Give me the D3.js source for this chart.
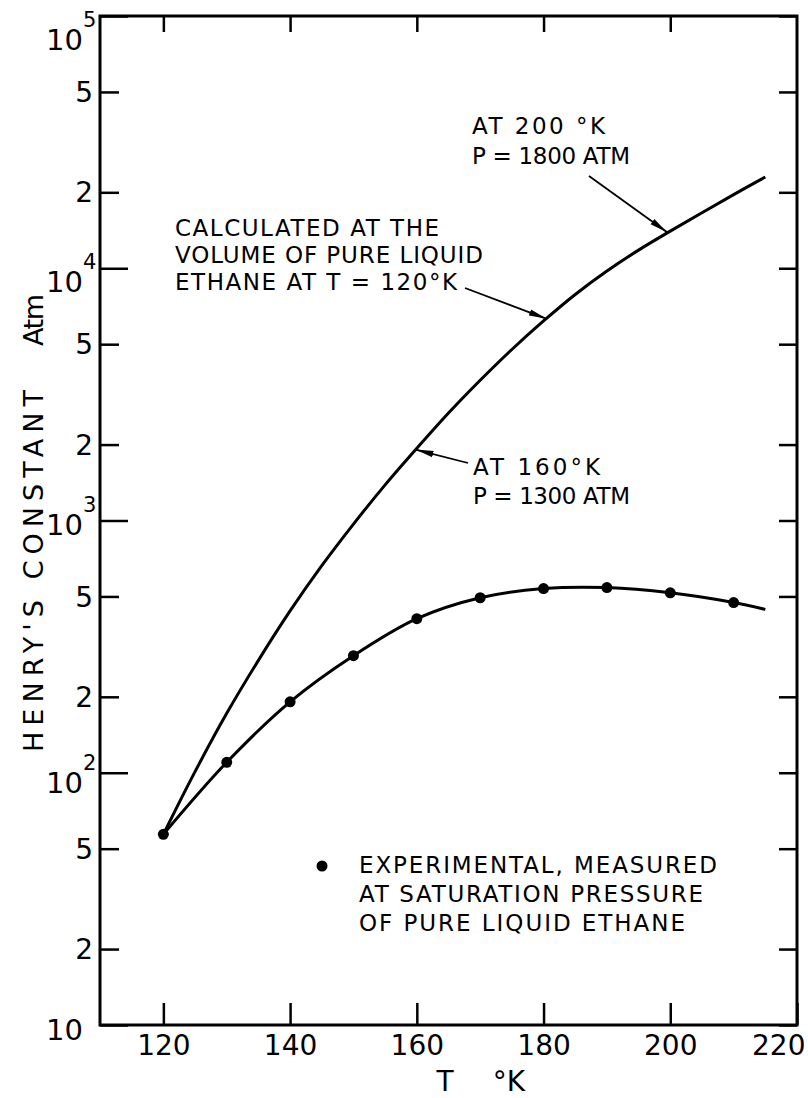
<!DOCTYPE html>
<html>
<body style="margin: 0; background: #fff">
  <script src="https://d3js.org/d3.v7.min.js"></script>

  <script>
    // experimental Henry's constant, measured at saturation pressure
    const EXP_T = [120, 130, 140, 150, 160, 170, 180, 190, 200, 210];
    const EXP_H = [57, 110, 191, 291, 408, 494, 537, 542, 517, 473];
    // the smooth line through them runs a little past the last point
    const FIT_T = [120, 130, 140, 150, 160, 170, 180, 190, 200, 210, 215];
    const FIT_H = [57, 110, 191, 291, 408, 494, 537, 542, 517, 473, 444];

    // calculated at the volume of pure liquid ethane at T = 120 K
    const CALC_T = [120, 125, 130, 135, 140, 145, 150, 155, 160, 165, 170, 175, 180, 185, 190, 195, 200, 205, 210, 215];
    const CALC_H = [57, 101, 172, 279, 438, 662, 968, 1384, 1932, 2667, 3597, 4764, 6180, 7870, 9750, 11800, 14030, 16600, 19590, 23010];

    const X_TICKS = [120, 140, 160, 180, 200, 220];
    const Y_MAJOR = [10, 100, 1000, 10000, 100000];
    const Y_MINOR = [20, 50, 200, 500, 2000, 5000, 20000, 50000];
    const Y_EXP = ["", "2", "3", "4", "5"];

    const start = () => {
      const width = 808;
      const height = 1098;
      const font = "'DejaVu Sans', sans-serif";

      const svg = d3.select("body").append("svg")
        .attr("width", width)
        .attr("height", height)
        .style("font-family", font);

      const x = d3.scaleLinear().domain([110, 220]).range([100, 797]);
      const y = d3.scaleLog().domain([10, 100000]).range([1025, 16]);

      const defs = svg.append("defs");
      defs.append("marker")
        .attr("id", "head")
        .attr("viewBox", "0 0 18 8")
        .attr("refX", 18)
        .attr("refY", 4)
        .attr("markerWidth", 18)
        .attr("markerHeight", 8)
        .attr("markerUnits", "userSpaceOnUse")
        .attr("orient", "auto")
        .append("path")
        .attr("d", "M0,0.8 L18,4 L0,7.2 Z")
        .attr("fill", "#000");

      // axes, ticks pointing inward
      const styleAxis = (g) => {
        g.select(".domain").remove();
        g.selectAll(".tick line").attr("stroke", "#000").attr("stroke-width", 2.5);
      };

      svg.append("g")
        .attr("transform", `translate(0,${y(10)})`)
        .call(d3.axisBottom(x).tickValues(X_TICKS).tickSize(-22).tickPadding(30))
        .call(styleAxis)
        .call((g) => g.selectAll(".tick text")
          .attr("font-size", 28)
          .attr("font-family", font)
          .attr("fill", "#000")
          .attr("dy", 0)
          .attr("y", 30)
          .attr("text-anchor", (d) => {return d === 220 ? "end" : "middle";})
          .attr("x", (d) => {return d === 220 ? 8 : 0;}));

      svg.append("g")
        .attr("transform", `translate(0,${y(100000)})`)
        .call(d3.axisTop(x).tickValues(X_TICKS.slice(0, 5)).tickSize(-16).tickFormat(""))
        .call(styleAxis);

      svg.append("g")
        .attr("transform", `translate(${x(110)},0)`)
        .call(d3.axisLeft(y).tickValues(Y_MAJOR).tickSize(-28).tickFormat(""))
        .call(styleAxis);

      svg.append("g")
        .attr("transform", `translate(${x(110)},0)`)
        .call(d3.axisLeft(y).tickValues(Y_MINOR).tickSize(-19).tickFormat(""))
        .call(styleAxis);

      svg.append("g")
        .attr("transform", `translate(${x(220)},0)`)
        .call(d3.axisRight(y).tickValues(Y_MAJOR.concat(Y_MINOR)).tickSize(-18).tickFormat(""))
        .call(styleAxis);

      // frame
      svg.append("rect")
        .attr("x", x(110))
        .attr("y", y(100000))
        .attr("width", x(220) - x(110))
        .attr("height", y(10) - y(100000))
        .attr("fill", "none")
        .attr("stroke", "#000")
        .attr("stroke-width", 3);

      // y tick labels
      const majorShift = [5, 10, 4, 14, 24];
      Y_MAJOR.forEach((v, i) => {
        svg.append("text")
          .attr("x", 83)
          .attr("y", y(v) + majorShift[i])
          .attr("dy", "0.35em")
          .attr("text-anchor", "end")
          .attr("font-size", 29)
          .text("10");
        if (Y_EXP[i]) {
          svg.append("text")
            .attr("x", 83)
            .attr("y", y(v) + majorShift[i] - 13)
            .attr("font-size", 21)
            .text(Y_EXP[i]);
        }
      });

      svg.selectAll(".minor-label")
        .data(Y_MINOR)
        .enter()
        .append("text")
        .attr("class", "minor-label")
        .attr("x", 93)
        .attr("y", (d) => {return y(d);})
        .attr("dy", "0.36em")
        .attr("text-anchor", "end")
        .attr("font-size", 28)
        .text((d) => {return String(d).charAt(0);});

      // axis titles
      svg.append("text")
        .attr("x", 445)
        .attr("y", 1091)
        .attr("text-anchor", "middle")
        .attr("font-size", 28)
        .text("T");
      svg.append("text")
        .attr("x", 509)
        .attr("y", 1091)
        .attr("text-anchor", "middle")
        .attr("font-size", 28)
        .text("°K");

      const yTitle = svg.append("g").attr("transform", "translate(43,0) rotate(-90)");
      yTitle.append("text")
        .attr("x", -752)
        .attr("y", 0)
        .attr("font-size", 27)
        .attr("textLength", 362)
        .attr("lengthAdjust", "spacing")
        .text("HENRY'S CONSTANT");
      yTitle.append("text")
        .attr("x", -346)
        .attr("y", 0)
        .attr("font-size", 27)
        .attr("textLength", 52)
        .attr("lengthAdjust", "spacing")
        .text("Atm");

      // curves
      const line = d3.line()
        .x((d) => {return x(d[0]);})
        .y((d) => {return y(d[1]);})
        .curve(d3.curveCatmullRom);

      svg.append("path")
        .datum(CALC_T.map((t, i) => [t, CALC_H[i]]))
        .attr("d", line)
        .attr("fill", "none")
        .attr("stroke", "#000")
        .attr("stroke-width", 3);

      svg.append("path")
        .datum(FIT_T.map((t, i) => [t, FIT_H[i]]))
        .attr("d", line)
        .attr("fill", "none")
        .attr("stroke", "#000")
        .attr("stroke-width", 3);

      svg.selectAll(".dot")
        .data(EXP_T.map((t, i) => [t, EXP_H[i]]))
        .enter()
        .append("circle")
        .attr("class", "dot")
        .attr("cx", (d) => {return x(d[0]);})
        .attr("cy", (d) => {return y(d[1]);})
        .attr("r", 5.5)
        .attr("fill", "#000");

      // annotations
      const note = (lines, x0, y0, step, lengths) => {
        lines.forEach((s, i) => {
          svg.append("text")
            .attr("x", x0)
            .attr("y", y0 + i * step)
            .attr("font-size", 23)
            .attr("textLength", lengths[i])
            .attr("lengthAdjust", "spacing")
            .text(s);
        });
      };
      const arrow = (x1, y1, t, v) => {
        svg.append("line")
          .attr("x1", x1)
          .attr("y1", y1)
          .attr("x2", x(t))
          .attr("y2", y(v))
          .attr("stroke", "#000")
          .attr("stroke-width", 1.8)
          .attr("marker-end", "url(#head)");
      };

      note(["AT  200 °K", "P = 1800 ATM"], 472, 134, 30, [133, 158]);
      arrow(589, 176, 199.5, 13900);

      note(["CALCULATED AT THE", "VOLUME OF PURE LIQUID", "ETHANE AT T = 120°K"], 175, 236, 27, [264, 308, 282]);
      arrow(465, 288, 180.5, 6300);

      note(["AT 160°K", "P = 1300 ATM"], 473, 475, 29, [127, 157]);
      arrow(468, 463, 159.8, 1910);

      svg.append("circle")
        .attr("cx", 322)
        .attr("cy", 866)
        .attr("r", 5.5)
        .attr("fill", "#000");
      note(["EXPERIMENTAL, MEASURED", "AT SATURATION PRESSURE", "OF PURE LIQUID ETHANE"], 359, 873, 29, [358, 344, 326]);
    };

    document.addEventListener("DOMContentLoaded", () => {
      start();
    }, false);
  </script>
</body>
</html>
